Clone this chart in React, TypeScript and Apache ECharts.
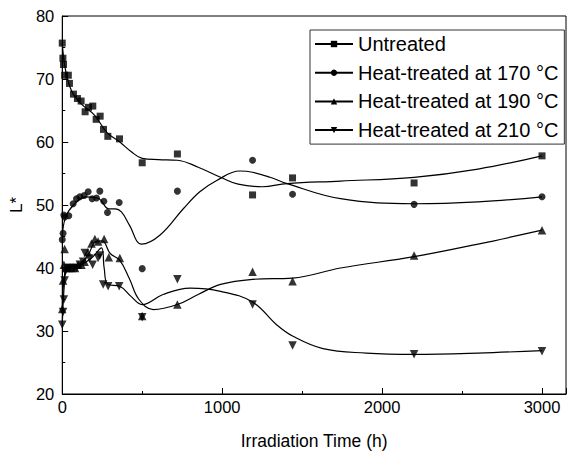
import React, { useEffect, useRef } from "react";
import * as echarts from "echarts";

const seriesNames = [
  "Untreated",
  "Heat-treated at 170 °C",
  "Heat-treated at 190 °C",
  "Heat-treated at 210 °C",
];

// measured points [time h, L*]
const untreatedPts: number[][] = [
  [0, 75.7], [4, 73.3], [8, 72.3], [15, 70.6], [38, 70.6], [45, 69.3], [70, 67.6], [95, 66.9],
  [118, 66.5], [143, 64.8], [164, 65.5], [191, 65.7], [212, 63.6], [237, 64.1], [258, 62],
  [285, 60.9], [358, 60.5], [500, 56.7], [720, 58.1], [1190, 51.6], [1440, 54.3], [2200, 53.5], [3000, 57.8],
];
const t170Pts: number[][] = [
  [0, 44.5], [5, 45.5], [10, 48.4], [16, 48.1], [41, 48.3], [68, 50.2], [89, 51], [110, 51.3],
  [137, 51.5], [162, 52.1], [187, 51], [214, 51.1], [235, 52.2], [260, 50.6], [283, 48.8],
  [356, 50.4], [500, 39.9], [720, 52.2], [1190, 57.1], [1440, 51.7], [2200, 50.1], [3000, 51.3],
];
const t190Pts: number[][] = [
  [0, 33.5], [5, 38], [10, 40.5], [15, 43], [25, 40], [40, 40], [60, 40], [80, 40], [100, 40.5],
  [120, 40.5], [140, 41], [160, 42.5], [183, 43.9], [204, 44.6], [224, 44.2], [262, 44.6],
  [291, 41.7], [360, 41.6], [500, 32.4], [720, 34.2], [1190, 39.4], [1440, 37.9], [2200, 42], [3000, 46],
];
const t210Pts: number[][] = [
  [0, 31], [5, 33], [10, 35], [15, 38], [20, 39.5], [30, 40], [50, 40], [70, 40], [90, 40],
  [110, 40.5], [130, 41], [141, 42.4], [170, 41.5], [190, 40.5], [224, 41.6], [235, 42],
  [256, 37.4], [287, 37.1], [356, 37.1], [500, 32.2], [720, 38.2], [1190, 34.2], [1440, 27.7],
  [2200, 26.3], [3000, 26.8],
];

// fitted curves
const untreatedFit: number[][] = [
  [0, 75.7], [20, 71.5], [60, 68], [120, 66], [200, 64.3], [280, 61.5], [360, 60], [430, 58.5],
  [500, 57.4], [600, 57.2], [720, 57.1], [850, 56], [990, 54.4], [1100, 53.3], [1250, 52.9],
  [1405, 53.4], [1740, 53.8], [2200, 54.4], [2600, 55.7], [3000, 57.8],
];
const t170Fit: number[][] = [
  [0, 45], [20, 48], [70, 50], [150, 51.3], [230, 51], [290, 49.4], [330, 49.4], [370, 48.9],
  [420, 46.8], [496, 43.8], [610, 45.2], [757, 49.4], [860, 52.1], [966, 53.9], [1110, 55.4],
  [1190, 55.2], [1300, 54.4], [1405, 53.4], [1740, 51], [2200, 50.2], [2600, 50.5], [3000, 51.3],
];
const t190Fit: number[][] = [
  [0, 33.5], [15, 39], [40, 40.2], [100, 40.5], [160, 42], [210, 44.2], [250, 44.3], [300, 42.3],
  [360, 41.2], [420, 38.3], [480, 35], [570, 33.4], [720, 34.2], [850, 35.8], [990, 37.4],
  [1190, 38.2], [1440, 38.4], [1740, 40], [2200, 41.8], [2600, 43.8], [3000, 46],
];
const t210Fit: number[][] = [
  [0, 31], [15, 38], [30, 40], [100, 40.3], [180, 41.5], [245, 43.2], [262, 40], [285, 37.4],
  [360, 37.1], [430, 35.5], [500, 34.2], [630, 35.8], [800, 36.8], [990, 36.3], [1190, 34.6],
  [1340, 31], [1440, 29.2], [1630, 27.2], [1900, 26.5], [2200, 26.3], [2600, 26.5], [3000, 26.9],
];

const xTicks = [0, 1000, 2000, 3000];
const yTicks = [20, 30, 40, 50, 60, 70, 80];

const symbols = ["rect", "circle", "triangle", "triangle"];
const rotations = [0, 0, 0, 180];
const sizes = [7, 7, 8.5, 8.5];

export default function App() {
  const ref = useRef<HTMLDivElement>(null);
  useEffect(() => {
    if (!ref.current) return;
    const chart = echarts.init(ref.current, null, { renderer: "svg" });
    const font = "'Liberation Sans', Arial, sans-serif";
    const pts = [untreatedPts, t170Pts, t190Pts, t210Pts];
    const fits = [untreatedFit, t170Fit, t190Fit, t210Fit];
    const series: any[] = [];
    seriesNames.forEach((name, i) => {
      series.push({
        name,
        type: "line",
        data: fits[i],
        smooth: 0.4,
        showSymbol: false,
        symbol: symbols[i],
        symbolSize: sizes[i] - 1,
        symbolRotate: rotations[i],
        lineStyle: { color: "#000", width: 1.2 },
        itemStyle: { color: "#000" },
        z: 2,
      });
      series.push({
        name: name + " data",
        type: "scatter",
        data: pts[i],
        symbol: symbols[i],
        symbolSize: sizes[i],
        symbolRotate: rotations[i],
        itemStyle: { color: "#000" },
        z: 3,
      });
    });
    chart.setOption({
      animation: false,
      backgroundColor: "#fff",
      grid: { left: 62, right: 3, top: 16, bottom: 58, show: true, borderColor: "#000", borderWidth: 1 },
      legend: {
        data: seriesNames,
        orient: "vertical",
        left: 310,
        top: 30,
        itemWidth: 38,
        itemHeight: 8,
        itemGap: 8.7,
        padding: [4, 6, 4, 4],
        borderColor: "#333",
        borderWidth: 1,
        backgroundColor: "#fff",
        textStyle: { fontSize: 20, fontFamily: font, color: "#000" },
      },
      xAxis: {
        type: "value",
        min: 0,
        max: 3150,
        interval: 1000,
        name: "Irradiation Time (h)",
        nameLocation: "middle",
        nameGap: 38,
        nameTextStyle: { fontSize: 17.5, fontFamily: font, color: "#000" },
        axisLine: { lineStyle: { color: "#000" } },
        axisTick: { inside: true, length: 6, lineStyle: { color: "#000" } },
        minorTick: { show: true, splitNumber: 2, length: 3, lineStyle: { color: "#000" } },
        splitLine: { show: false },
        axisLabel: {
          fontSize: 16.5,
          fontFamily: font,
          color: "#000",
          margin: 4,
          showMaxLabel: false,
          formatter: (v: number) => (xTicks.includes(v) ? String(v) : ""),
        },
      },
      yAxis: {
        type: "value",
        min: 20,
        max: 80,
        interval: 10,
        name: "L*",
        nameLocation: "middle",
        nameGap: 28,
        nameRotate: 90,
        nameTextStyle: { fontSize: 17, fontFamily: font, color: "#000" },
        axisLine: { show: true, lineStyle: { color: "#000" } },
        axisTick: { inside: true, length: 6, lineStyle: { color: "#000" } },
        minorTick: { show: true, splitNumber: 2, length: 3, lineStyle: { color: "#000" } },
        splitLine: { show: false },
        axisLabel: {
          fontSize: 16.5,
          fontFamily: font,
          color: "#000",
          margin: 8,
          formatter: (v: number) => (yTicks.includes(v) ? String(v) : ""),
        },
      },
      series,
    });
    return () => chart.dispose();
  }, []);
  return <div ref={ref} style={{ width: 569, height: 455, position: "absolute", left: 0, top: 0 }} />;
}
